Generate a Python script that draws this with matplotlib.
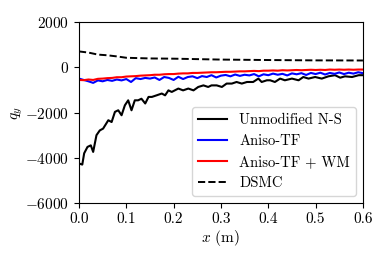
import matplotlib
matplotlib.use("Agg")
import matplotlib.pyplot as plt
import numpy as np

plt.rcParams["font.family"] = "serif"
plt.rcParams["font.serif"] = ["cmr10"]
plt.rcParams["mathtext.fontset"] = "cm"
plt.rcParams["axes.formatter.use_mathtext"] = True
plt.rcParams["font.size"] = 11

# Unmodified N-S
x_ns = [0.0, 0.007, 0.011, 0.018, 0.025, 0.030, 0.037, 0.044, 0.051, 0.062,
        0.069, 0.076, 0.083, 0.090, 0.097, 0.104, 0.111, 0.118, 0.125, 0.132,
        0.140, 0.147, 0.154, 0.164, 0.175, 0.182, 0.189, 0.196, 0.21, 0.22,
        0.231, 0.242, 0.252, 0.263, 0.273, 0.280, 0.291, 0.302, 0.312, 0.323,
        0.333, 0.344, 0.355, 0.368, 0.379, 0.386, 0.397, 0.404, 0.414, 0.425,
        0.435, 0.450, 0.464, 0.474, 0.485, 0.499, 0.513, 0.527, 0.541, 0.552,
        0.562, 0.577, 0.591, 0.6]
q_ns = [-4250, -4300, -3800, -3520, -3450, -3740, -3000, -2790, -2710, -2340,
        -2420, -1970, -1900, -2120, -1680, -1460, -1900, -1460, -1460, -1390,
        -1600, -1310, -1310, -1240, -1160, -1240, -1020, -1090, -940, -1020,
        -940, -1020, -870, -800, -870, -800, -800, -870, -720, -720,
        -650, -720, -650, -650, -500, -650, -575, -575, -650, -500,
        -575, -500, -575, -430, -500, -430, -500, -400, -350, -460,
        -400, -430, -350, -350]

# Aniso-TF and Aniso-TF + WM on a 0.01 m grid
x_tf = np.linspace(0.0, 0.6, 61)
q_tf = [-500, -560, -620, -690, -580, -620, -560, -600, -540, -580,
        -520, -650, -480, -520, -470, -500, -450, -560, -430, -470,
        -560, -420, -520, -430, -400, -480, -390, -430, -350, -450,
        -370, -340, -400, -320, -380, -330, -360, -300, -400, -310,
        -350, -280, -330, -290, -360, -270, -310, -260, -340, -250,
        -300, -240, -320, -250, -290, -230, -300, -240, -280, -220,
        -260]
q_wm = [-560, -570, -540, -560, -510, -500, -480, -470, -440, -440,
        -410, -400, -390, -370, -360, -350, -330, -330, -310, -300,
        -300, -280, -270, -270, -250, -250, -240, -230, -220, -220,
        -210, -200, -200, -190, -180, -180, -170, -160, -170, -150,
        -150, -140, -150, -130, -140, -130, -120, -130, -120, -110,
        -120, -110, -120, -100, -110, -100, -110, -100, -110, -100,
        -100]

# DSMC
x_dsmc = [0.0, 0.02, 0.04, 0.06, 0.08, 0.10, 0.15, 0.20, 0.30, 0.40, 0.50, 0.60]
q_dsmc = [700, 650, 560, 530, 480, 420, 390, 380, 340, 320, 305, 300]

fig = plt.figure(figsize=(3.89, 2.59), dpi=100)
ax = fig.add_axes([0.203, 0.216, 0.730, 0.699])

ax.plot(x_ns, q_ns, color="black", lw=1.5, label="Unmodified N-S")
ax.plot(x_tf, q_tf, color="blue", lw=1.5, label="Aniso-TF")
ax.plot(x_tf, q_wm, color="red", lw=1.5, label="Aniso-TF + WM")
ax.plot(x_dsmc, q_dsmc, color="black", lw=1.4, ls="--", label="DSMC")

ax.set_xlim(0.0, 0.6)
ax.set_ylim(-6000, 2000)
ax.set_xticks([0.0, 0.1, 0.2, 0.3, 0.4, 0.5, 0.6])
ax.set_xticklabels(["0.0", "0.1", "0.2", "0.3", "0.4", "0.5", "0.6"])
ax.set_yticks([-6000, -4000, -2000, 0, 2000])
ax.set_xlabel(r"$x$ (m)", labelpad=1)
ax.set_ylabel(r"$q_y$", labelpad=0)
ax.legend(loc="lower right", fontsize=10.5)

fig.savefig("out.png", dpi=100)
